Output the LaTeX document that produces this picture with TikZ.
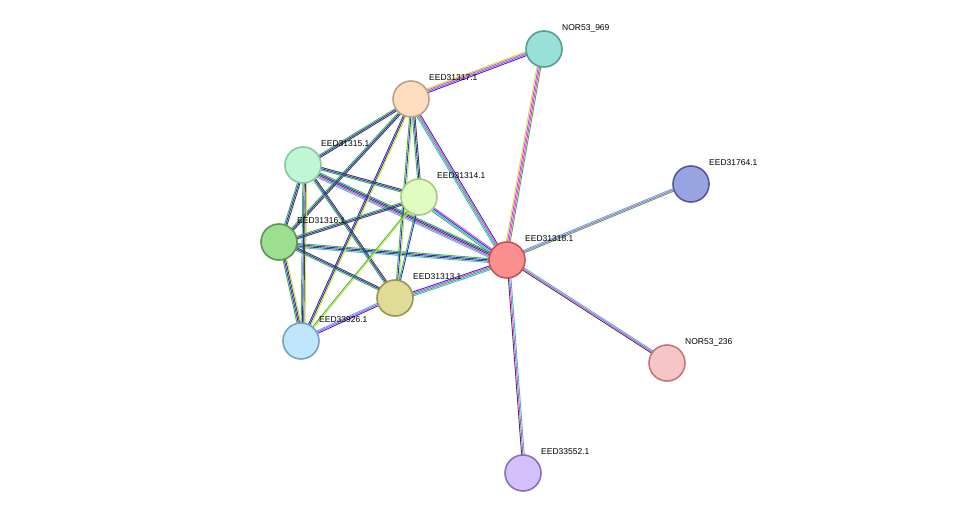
\documentclass[tikz,border=0pt]{standalone}
\usepackage{fontspec}
\setmainfont{Liberation Sans}
\usetikzlibrary{calc}
\definecolor{eG}{HTML}{3CB83C}
\definecolor{eB}{HTML}{2A2AE0}
\definecolor{eK}{HTML}{404040}
\definecolor{eM}{HTML}{E040E0}
\definecolor{eC}{HTML}{40B8E0}
\definecolor{eY}{HTML}{C8E040}
\definecolor{eP}{HTML}{A070C0}
\tikzset{
  prot/.style={circle,draw,line width=1.6pt,minimum size=36pt,inner sep=0pt},
  lab/.style={anchor=west,font=\fontsize{8.5}{10}\selectfont,inner sep=0pt},
  ln/.style={line width=0.9pt}
}
\newcommand{\edge}[3]{%
  \foreach \c [count=\i] in {#3}{%
    \pgfmathsetmacro{\o}{(\i-1)*1.3}%
    \draw[ln,draw=\c] ($(#1)!\o pt!90:(#2)$) -- ($(#2)!\o pt!-90:(#1)$);%
  }}
\begin{document}
\begin{tikzpicture}[x=1pt,y=-1pt]
\useasboundingbox (0,0) rectangle (975,519);
\coordinate (n969) at (544,49);
\coordinate (n317) at (411,99);
\coordinate (n315) at (303,165);
\coordinate (n314) at (419,197);
\coordinate (n316) at (279,242);
\coordinate (n318) at (507,260);
\coordinate (n313) at (395,298);
\coordinate (n926) at (301,341);
\coordinate (n764) at (691,184);
\coordinate (n236) at (667,363);
\coordinate (n552) at (523,473);
% edges
\edge{n318}{n969}{eG,eM,eM,eY}
\edge{n317}{n969}{eB,eM,eP,eY}
\edge{n318}{n764}{eG,eM,eC}
\edge{n318}{n236}{eK,eM,eC}
\edge{n318}{n552}{eK,eM,eC}
\edge{n318}{n317}{eB,eM,eG,eC}
\edge{n318}{n315}{eG,eB,eK,eM,eC}
\edge{n318}{n314}{eM,eB,eC,eG}
\edge{n318}{n316}{eG,eB,eK,eC}
\edge{n318}{n313}{eB,eM,eG,eC}
\edge{n926}{n313}{eB,eM,eC}
\edge{n317}{n315}{eG,eB,eK}
\edge{n317}{n314}{eG,eB,eK}
\edge{n317}{n316}{eG,eB,eK}
\edge{n317}{n313}{eG,eB,eY}
\edge{n317}{n926}{eB,eK,eY}
\edge{n315}{n314}{eG,eB,eK}
\edge{n315}{n316}{eG,eB,eK}
\edge{n315}{n313}{eG,eB,eK}
\edge{n315}{n926}{eG,eB,eK,eY}
\edge{n314}{n316}{eG,eB,eK}
\edge{n314}{n313}{eG,eB}
\edge{n314}{n926}{eG,eY}
\edge{n316}{n313}{eG,eB,eK}
\edge{n316}{n926}{eG,eB,eK,eY}
% nodes
\node[prot,draw={rgb,255:red,80;green,160;blue,150},fill={rgb,255:red,152;green,224;blue,216}] (p969) at (n969) {};
\node[prot,draw={rgb,255:red,190;green,160;blue,130},fill={rgb,255:red,253;green,220;blue,192}] (p317) at (n317) {};
\node[prot,draw={rgb,255:red,130;green,200;blue,160},fill={rgb,255:red,192;green,245;blue,214}] (p315) at (n315) {};
\node[prot,draw={rgb,255:red,170;green,200;blue,130},fill={rgb,255:red,224;green,252;blue,192}] (p314) at (n314) {};
\node[prot,draw={rgb,255:red,90;green,150;blue,80},fill={rgb,255:red,157;green,223;blue,144}] (p316) at (n316) {};
\node[prot,draw={rgb,255:red,200;green,80;blue,80},fill={rgb,255:red,252;green,144;blue,144}] (p318) at (n318) {};
\node[prot,draw={rgb,255:red,150;green,150;blue,80},fill={rgb,255:red,224;green,220;blue,152}] (p313) at (n313) {};
\node[prot,draw={rgb,255:red,120;green,160;blue,200},fill={rgb,255:red,192;green,230;blue,252}] (p926) at (n926) {};
\node[prot,draw={rgb,255:red,80;green,90;blue,160},fill={rgb,255:red,152;green,164;blue,224}] (p764) at (n764) {};
\node[prot,draw={rgb,255:red,190;green,120;blue,120},fill={rgb,255:red,246;green,198;blue,198}] (p236) at (n236) {};
\node[prot,draw={rgb,255:red,140;green,110;blue,180},fill={rgb,255:red,212;green,192;blue,252}] (p552) at (n552) {};
% labels
\node[lab] (l969) at ($(n969)+(18,-21)$) {NOR53\_969};
\node[lab] (l317) at ($(n317)+(18,-21)$) {EED31317.1};
\node[lab] (l315) at ($(n315)+(18,-21)$) {EED31315.1};
\node[lab] (l314) at ($(n314)+(18,-21)$) {EED31314.1};
\node[lab] (l316) at ($(n316)+(18,-21)$) {EED31316.1};
\node[lab] (l318) at ($(n318)+(18,-21)$) {EED31318.1};
\node[lab] (l313) at ($(n313)+(18,-21)$) {EED31313.1};
\node[lab] (l926) at ($(n926)+(18,-21)$) {EED33926.1};
\node[lab] (l764) at ($(n764)+(18,-21)$) {EED31764.1};
\node[lab] (l236) at ($(n236)+(18,-21)$) {NOR53\_236};
\node[lab] (l552) at ($(n552)+(18,-21)$) {EED33552.1};
\end{tikzpicture}
\end{document}
